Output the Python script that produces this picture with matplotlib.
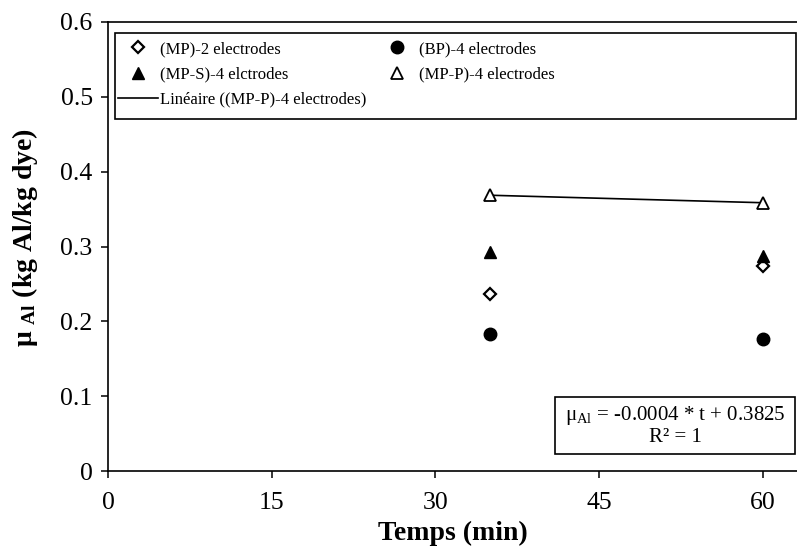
import matplotlib
matplotlib.use("Agg")
import matplotlib.pyplot as plt
from matplotlib.patches import Rectangle
import numpy as np

plt.rcParams['font.family'] = ['Liberation Serif', 'DejaVu Serif']
plt.rcParams['mathtext.fontset'] = 'custom'
plt.rcParams['mathtext.rm'] = 'Liberation Serif'
plt.rcParams['mathtext.bf'] = 'Liberation Serif:bold'
plt.rcParams['mathtext.it'] = 'Liberation Serif:italic'

# temps (min)
t = [35, 60]

# mu_Al (kg Al / kg dye)
mp_2 = [0.237, 0.274]
bp_4 = [0.183, 0.176]
mp_s_4 = [0.293, 0.287]
mp_p_4 = [0.3685, 0.3585]

# linear trend on (MP-P)-4 electrodes
slope = -0.0004
intercept = 0.3825
r2 = 1

xticks = [0, 15, 30, 45, 60]
yticks = [0, 0.1, 0.2, 0.3, 0.4, 0.5, 0.6]

fig = plt.figure(figsize=(7.97, 5.56), dpi=100)
ax = fig.add_axes([108/797, 85/556, 689/797, 449/556])

h_mp2, = ax.plot(t, mp_2, 'D', ms=6, mfc='white', mec='black', mew=1.6, ls='none',
                 label='(MP)-2 electrodes')
h_bp, = ax.plot(t, bp_4, 'o', ms=9, color='black', ls='none',
                label='(BP)-4 electrodes')
h_mps, = ax.plot(t, mp_s_4, '^', ms=9, color='black', ls='none',
                 label='(MP-S)-4 elctrodes')
h_mpp, = ax.plot(t, mp_p_4, '^', ms=9, mfc='white', mec='black', mew=1.3, ls='none',
                 label='(MP-P)-4 electrodes')
tt = np.array(t, dtype=float)
h_lin, = ax.plot(tt, slope * tt + intercept, '-', color='black', lw=1.2,
                 label='Linéaire ((MP-P)-4 electrodes)', zorder=1)

ax.set_xlim(0, 63.15)
ax.set_ylim(0, 0.6)
ax.set_xticks(xticks)
ax.set_yticks(yticks)
ax.set_yticklabels(['0' if v == 0 else f'{v:.1f}' for v in yticks])
ax.tick_params(direction='out', length=5, width=1.1, labelsize=18.5)
ax.tick_params(axis='x', pad=10)
ax.tick_params(axis='y', pad=6)
for side in ['left', 'bottom', 'top']:
    ax.spines[side].set_linewidth(1.2)
ax.spines['right'].set_visible(False)

ax.set_xlabel('Temps (min)', fontsize=20, fontweight='bold')
ax.set_ylabel('μ $_{\\mathbf{Al}}$ (kg Al/kg dye)', fontsize=20, fontweight='bold')
ax.xaxis.set_label_coords(0.5, -0.112)
ax.yaxis.set_label_coords(-0.099, 0.519)

# legend frame drawn by hand so the box spans the plot width
ax.add_patch(Rectangle((0.0102, 0.784), 0.988, 0.1915, transform=ax.transAxes,
                       facecolor='white', edgecolor='black', lw=1.2,
                       clip_on=False, zorder=3))
leg = ax.legend(handles=[h_mp2, h_mps, h_lin, h_bp, h_mpp], ncol=2,
                loc='upper left', bbox_to_anchor=(0.0145, 0.957),
                borderaxespad=0, borderpad=0, fontsize=12, frameon=False,
                handlelength=2.4, handletextpad=0.15, labelspacing=0.55,
                columnspacing=0.6)
leg.set_zorder(4)

# equation box
ax.add_patch(Rectangle((0.6488, 0.0379), 0.3483, 0.1269, transform=ax.transAxes,
                       facecolor='white', edgecolor='black', lw=1.2,
                       clip_on=False, zorder=3))
ax.text(0.823, 0.1013,
        f'μ$_{{\\mathrm{{Al}}}}$ = {slope:.4f} * t + {intercept:.4f}\nR² = {r2}',
        transform=ax.transAxes, ha='center', va='center', fontsize=15,
        linespacing=1.05, zorder=4)

fig.savefig('out.png', dpi=100)
